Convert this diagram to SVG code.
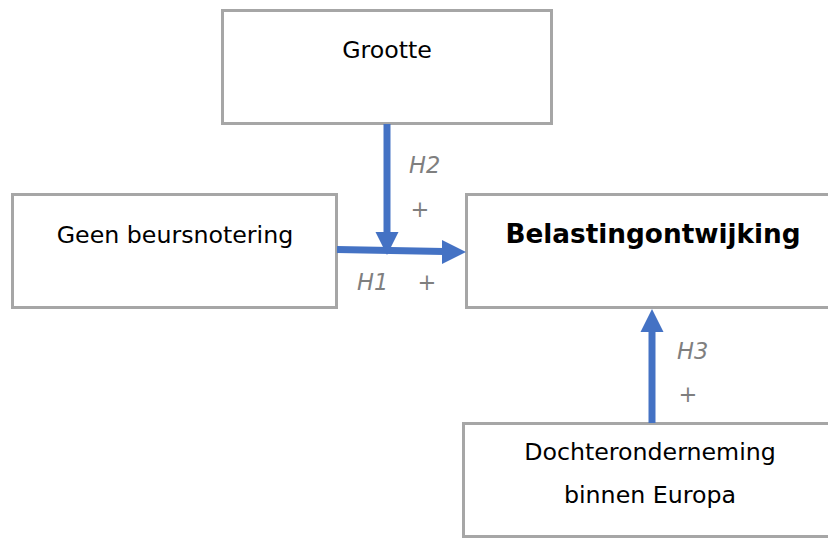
<svg xmlns="http://www.w3.org/2000/svg" width="828" height="538" viewBox="0 0 828 538">
<defs>
<style>
.box{fill:#fff;stroke:#a6a6a6;stroke-width:3}
.t{font-family:"DejaVu Sans",Verdana,sans-serif;font-size:23.7px;fill:#000;text-anchor:middle}
.b{font-weight:bold;font-size:26.3px}
.lbl{font-family:"DejaVu Sans",Verdana,sans-serif;font-size:22.5px;fill:#7f7f7f;font-style:italic}
.plus{font-family:"DejaVu Sans",Verdana,sans-serif;font-size:22.5px;fill:#7f7f7f}
.ln{stroke:#4472c4;stroke-width:7;fill:none}
.hd{fill:#4472c4}
</style>
</defs>
<rect width="828" height="538" fill="#fff"/>
<g id="grootte"><rect class="box" x="222.5" y="10.5" width="329" height="113"/><text class="t" x="387" y="58">Grootte</text></g>
<g id="geen"><rect class="box" x="12.5" y="194.5" width="324" height="113"/><text class="t" x="175" y="243">Geen beursnotering</text></g>
<g id="belasting"><rect class="box" x="466.5" y="194.5" width="374" height="113"/><text class="t b" x="653" y="243">Belastingontwijking</text></g>
<g id="dochter"><rect class="box" x="463.5" y="423.5" width="374" height="113"/><text class="t" x="650" y="460">Dochteronderneming</text><text class="t" x="650" y="503">binnen Europa</text></g>
<g id="connectors">
<line class="ln" x1="387" y1="124" x2="387" y2="234"/>
<polygon class="hd" points="375.5,232 398.5,232 387,255"/>
<line class="ln" x1="337" y1="249.5" x2="444" y2="251.5"/>
<polygon class="hd" points="442,240 442,264 466,252"/>
<line class="ln" x1="652" y1="423" x2="652" y2="330"/>
<polygon class="hd" points="640.5,332 663.5,332 652,309"/>
</g>
<g id="labels">
<text class="lbl" x="409" y="173">H2</text>
<text class="plus" x="420" y="217" text-anchor="middle">+</text>
<text class="lbl" x="357" y="290">H1</text>
<text class="plus" x="427" y="290" text-anchor="middle">+</text>
<text class="lbl" x="677" y="359">H3</text>
<text class="plus" x="688" y="402" text-anchor="middle">+</text>
</g>
</svg>
